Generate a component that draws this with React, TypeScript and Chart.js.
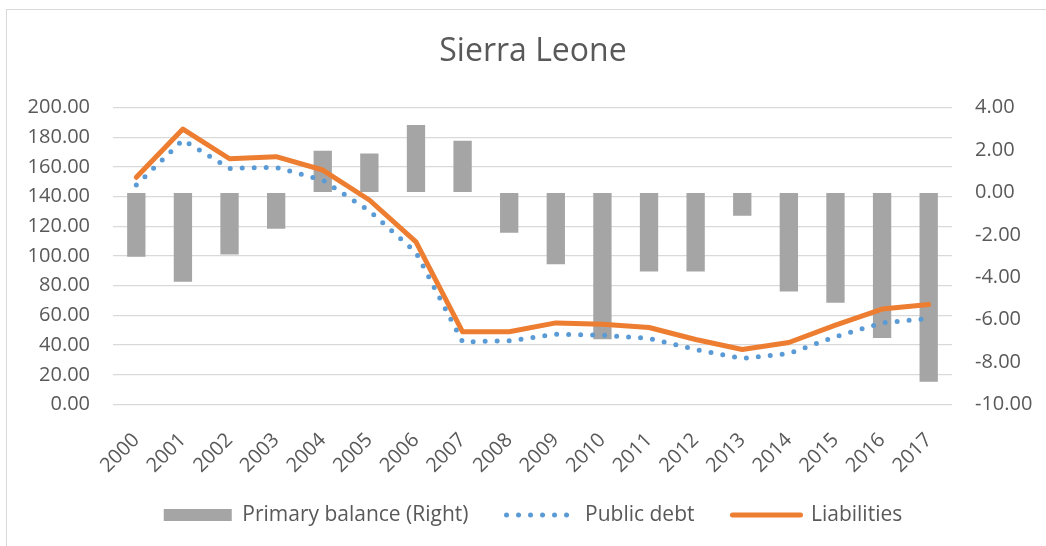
import React, { useEffect, useRef } from "react";
import { Chart, registerables } from "chart.js";

Chart.register(...registerables);

const categories = [
  "2000", "2001", "2002", "2003", "2004", "2005", "2006", "2007", "2008",
  "2009", "2010", "2011", "2012", "2013", "2014", "2015", "2016", "2017",
];
const primaryBalance = [
  -3.03, -4.21, -2.92, -1.71, 1.97, 1.84, 3.18, 2.44, -1.9,
  -3.39, -6.92, -3.73, -3.73, -1.1, -4.67, -5.2, -6.86, -8.93,
];
const publicDebt = [
  147.9, 178.2, 159.1, 159.8, 151.2, 130.5, 102.5, 42.2, 42.9,
  47.4, 46.7, 44.5, 37.1, 31.0, 34.4, 45.6, 55.0, 58.0,
];
const liabilities = [
  153.1, 185.6, 165.6, 167.0, 158.0, 137.8, 109.6, 49.0, 49.0,
  55.0, 54.1, 51.9, 43.8, 37.1, 41.8, 53.5, 64.3, 67.4,
];
const leftTickValues = [0, 20, 40, 60, 80, 100, 120, 140, 160, 180, 200];
const rightTickValues = [-10, -8, -6, -4, -2, 0, 2, 4];
const seriesNames = ["Primary balance (Right)", "Public debt", "Liabilities"];

const TEXT = "#595959";
const FONT = "'Open Sans', 'Noto Sans', sans-serif";

export default function App() {
  const ref = useRef<HTMLCanvasElement | null>(null);

  useEffect(() => {
    if (!ref.current) return;
    const chart = new Chart(ref.current, {
      type: "bar",
      data: {
        labels: categories,
        datasets: [
          {
            type: "bar",
            label: seriesNames[0],
            data: primaryBalance,
            backgroundColor: "#A5A5A5",
            borderWidth: 0,
            yAxisID: "y1",
            barPercentage: 0.393,
            categoryPercentage: 1,
            order: 3,
          },
          {
            type: "line",
            label: seriesNames[1],
            data: publicDebt,
            borderColor: "#5B9BD5",
            backgroundColor: "#5B9BD5",
            borderWidth: 5,
            borderDash: [0, 12],
            borderCapStyle: "round",
            pointRadius: 0,
            tension: 0,
            yAxisID: "y",
            order: 2,
          },
          {
            type: "line",
            label: seriesNames[2],
            data: liabilities,
            borderColor: "#ED7D31",
            backgroundColor: "#ED7D31",
            borderWidth: 5,
            borderCapStyle: "round",
            borderJoinStyle: "round",
            pointRadius: 0,
            tension: 0,
            yAxisID: "y",
            order: 1,
          },
        ],
      },
      options: {
        responsive: false,
        animation: false,
        devicePixelRatio: 1,
        layout: { padding: { left: 20, right: 0, top: 0, bottom: 10.5 } },
        plugins: {
          tooltip: { enabled: false },
          title: {
            display: true,
            text: "Sierra Leone",
            color: TEXT,
            font: { family: FONT, size: 32, weight: "normal", lineHeight: 1.2 },
            padding: { top: 33, bottom: 36.3 },
          },
          legend: {
            display: true,
            position: "bottom",
            labels: {
              color: TEXT,
              font: { family: FONT, size: 21 },
              usePointStyle: true,
              pointStyleWidth: 68,
              boxHeight: 12,
              padding: 38,
              generateLabels: (ch: any) => {
                const ds = ch.data.datasets;
                return [
                  {
                    text: ds[0].label,
                    fillStyle: "#A5A5A5",
                    strokeStyle: "#A5A5A5",
                    lineWidth: 0,
                    pointStyle: "rect",
                    fontColor: TEXT,
                    datasetIndex: 0,
                    hidden: false,
                  },
                  {
                    text: ds[1].label,
                    fillStyle: "#5B9BD5",
                    strokeStyle: "#5B9BD5",
                    lineWidth: 5,
                    lineDash: [0, 12],
                    lineCap: "round",
                    pointStyle: "line",
                    fontColor: TEXT,
                    datasetIndex: 1,
                    hidden: false,
                  },
                  {
                    text: ds[2].label,
                    fillStyle: "#ED7D31",
                    strokeStyle: "#ED7D31",
                    lineWidth: 5,
                    lineCap: "round",
                    pointStyle: "line",
                    fontColor: TEXT,
                    datasetIndex: 2,
                    hidden: false,
                  },
                ];
              },
            },
          },
        },
        scales: {
          x: {
            offset: true,
            grid: { display: false, drawTicks: false },
            border: { display: false },
            ticks: {
              color: TEXT,
              font: { family: FONT, size: 20 },
              maxRotation: 45,
              minRotation: 45,
              autoSkip: false,
              padding: 24,
            },
            afterFit: (s: any) => {
              s.height = 62;
              s._computeLabelArea = () => undefined;
            },
          },
          y: {
            position: "left",
            min: 0,
            max: 200,
            grid: { color: "#D9D9D9", lineWidth: 1.3, drawTicks: false },
            border: { display: false },
            afterBuildTicks: (s: any) => {
              s.ticks = leftTickValues.map((v) => ({ value: v }));
            },
            ticks: {
              color: TEXT,
              font: { family: FONT, size: 20 },
              padding: 23,
              callback: (v: any) => Number(v).toFixed(2),
            },
            afterFit: (s: any) => {
              s.width = 93;
            },
          },
          y1: {
            position: "right",
            min: -10,
            max: 4,
            grid: { drawOnChartArea: false, drawTicks: false },
            border: { display: false },
            afterBuildTicks: (s: any) => {
              s.ticks = rightTickValues.map((v) => ({ value: v }));
            },
            ticks: {
              color: TEXT,
              font: { family: FONT, size: 20 },
              padding: 23,
              callback: (v: any) => Number(v).toFixed(2),
            },
            afterFit: (s: any) => {
              s.width = 94;
            },
          },
        },
      },
    } as any);
    return () => chart.destroy();
  }, []);

  return (
    <div
      style={{
        position: "fixed",
        left: 0,
        top: 0,
        width: 1046,
        height: 546,
        overflow: "hidden",
        background: "#fff",
      }}
    >
      <div
        style={{
          position: "absolute",
          left: 6,
          top: 9,
          width: 1100,
          height: 600,
          border: "1px solid #D9D9D9",
        }}
      />
      <canvas
        ref={ref}
        width={1046}
        height={546}
        style={{ position: "absolute", left: 0, top: 0, width: 1046, height: 546 }}
      />
    </div>
  );
}
